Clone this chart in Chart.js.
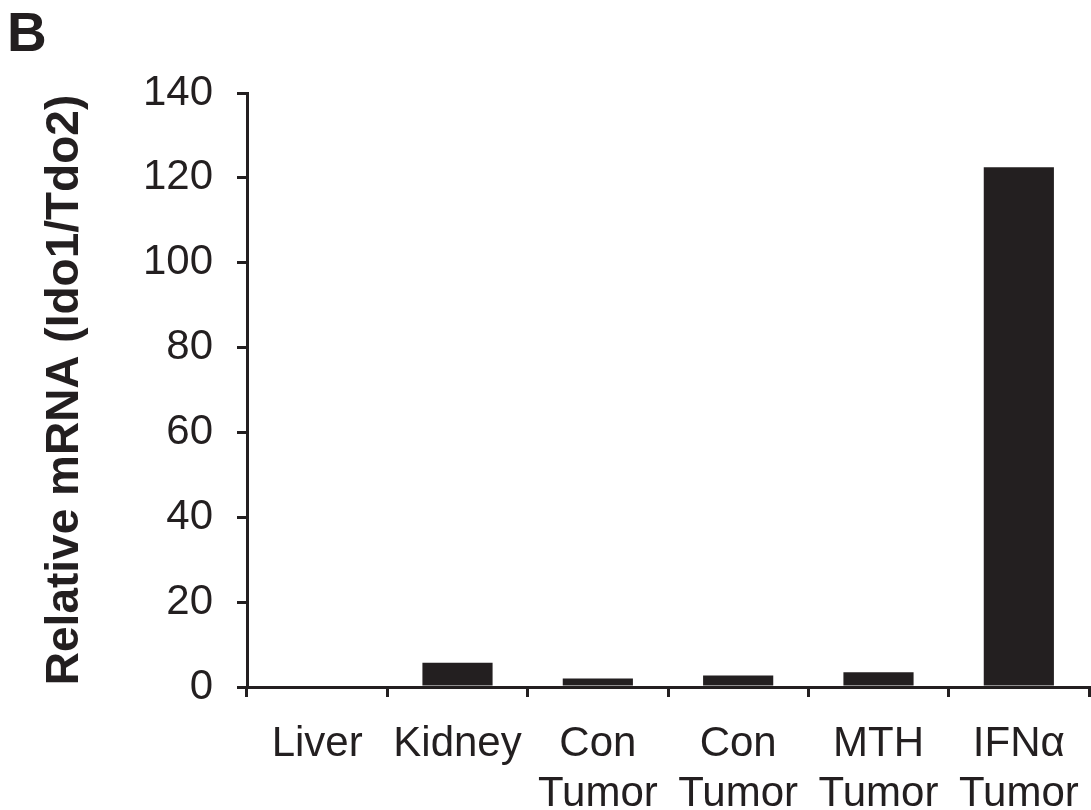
<!DOCTYPE html>
<html>
<head>
<meta charset="utf-8">
<script src="https://cdn.jsdelivr.net/npm/chart.js@4"></script>
<style>
    html, body { margin: 0; padding: 0; background: #fff; }
    #wrap { position: relative; width: 1091px; height: 810px; }
    #panel {
        position: absolute; left: 7px; top: 0px;
        font: bold 55px "Liberation Sans", Arial, sans-serif; color: #231f20;
    }
</style>
</head>
<body>
<div id="wrap">
    <canvas id="chart" width="1091" height="810"></canvas>
    <div id="panel">B</div>
</div>
<script>
// 数据
const categories = [['Liver'], ['Kidney'], ['Con', 'Tumor'], ['Con', 'Tumor'], ['MTH', 'Tumor'], ['IFN\u03B1', 'Tumor']];
const relativeMrna = [0, 5.7, 2.0, 2.7, 3.5, 122.5];
const yTicks = [0, 20, 40, 60, 80, 100, 120, 140];

const ink = '#231f20';
const font = '"Liberation Sans", Arial, sans-serif';

Chart.defaults.font.family = font;
Chart.defaults.color = ink;

new Chart(document.getElementById('chart'), {
    type: 'bar',
    data: {
        labels: categories,
        datasets: [{
            data: relativeMrna,
            backgroundColor: ink,
            borderWidth: 0,
            categoryPercentage: 1,
            barPercentage: 0.5
        }]
    },
    options: {
        responsive: false,
        animation: false,
        layout: { padding: { left: 0, top: 93, right: 2, bottom: 0 } },
        plugins: { legend: { display: false }, tooltip: { enabled: false } },
        scales: {
            x: {
                offset: true,
                grid: {
                    offset: true,
                    drawOnChartArea: false,
                    tickLength: 10,
                    lineWidth: 3,
                    color: ink
                },
                border: { width: 3, color: ink },
                ticks: {
                    font: { size: 42 },
                    padding: 22,
                    maxRotation: 0,
                    autoSkip: false
                },
                afterFit: s => {
                    s.height = 123;
                    s.paddingLeft = 0;
                    s.paddingRight = 0;
                }
            },
            y: {
                min: 0,
                max: 140,
                afterBuildTicks: s => { s.ticks = yTicks.map(v => ({ value: v })); },
                grid: {
                    drawOnChartArea: false,
                    tickLength: 10,
                    lineWidth: 3,
                    color: ink
                },
                border: { width: 3, color: ink },
                ticks: {
                    font: { size: 42 },
                    padding: 24
                },
                title: {
                    display: true,
                    text: 'Relative mRNA (Ido1/Tdo2)',
                    font: { size: 46, weight: 'bold' },
                    padding: { top: 38, bottom: 0 }
                },
                afterFit: s => {
                    s.width = 247;
                    s.paddingTop = 0;
                    s.paddingBottom = 0;
                }
            }
        }
    }
});
</script>
</body>
</html>
